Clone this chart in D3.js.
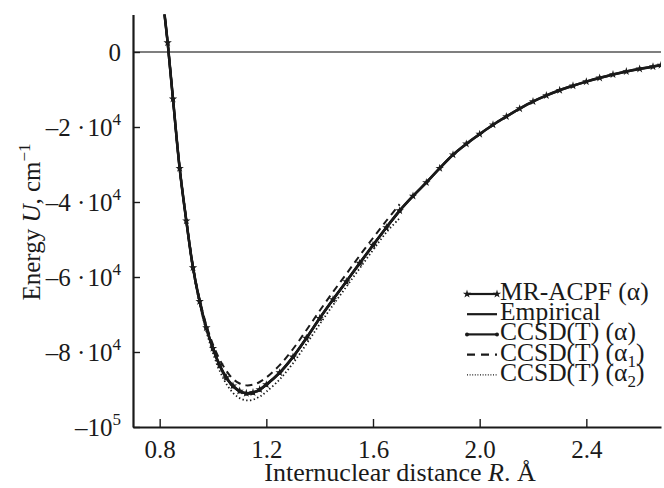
<!DOCTYPE html>
<html lang="en">
<head>
    <meta charset="UTF-8">
    <title>Potential energy curves</title>
    <script src="https://cdn.jsdelivr.net/npm/d3@7"></script>
    <style>
        body {margin: 0; background: white;}
        text {
            font-family: "Liberation Serif", "Times New Roman", serif;
            fill: #1a1a1a;
        }
    </style>
</head>
<body>
<script>
    const width = 664;
    const height = 488;

    // data (R in Angstrom, U in cm^-1)
    const mrAcpfR = [0.815, 0.83, 0.85, 0.875, 0.90, 0.925, 0.95, 0.975, 1.00, 1.025, 1.05, 1.075, 1.10, 1.125,
        1.15, 1.175, 1.20, 1.25, 1.30, 1.35, 1.40, 1.45, 1.50, 1.55, 1.60, 1.65, 1.70, 1.75, 1.80, 1.85,
        1.90, 1.95, 2.00, 2.05, 2.10, 2.15, 2.20, 2.25, 2.30, 2.35, 2.40, 2.45, 2.50, 2.55, 2.60, 2.65, 2.68];
    const mrAcpfU = [12000, 2500, -12500, -31000, -45000, -57500, -66500, -73500, -79000, -83500, -86800, -89000, -90400, -91000,
        -90800, -90000, -88700, -85500, -81300, -76300, -71000, -66000, -61200, -56300, -51500, -46800, -42300, -38400, -34800, -31000,
        -27400, -24500, -21900, -19400, -17200, -15100, -13200, -11600, -10200, -9000, -7900, -6900, -6000, -5200, -4500, -3900, -3500];
    const empiricalU = [12000, 2400, -12600, -31100, -45100, -57600, -66600, -73600, -79100, -83600, -86900, -89100, -90500, -91000,
        -90800, -90000, -88700, -85500, -81300, -76300, -71000, -66000, -61200, -56300, -51500, -46800, -42300, -38400, -34800, -31000,
        -27400, -24500, -21900, -19400, -17200, -15100, -13200, -11600, -10200, -9000, -7900, -6900, -6000, -5200, -4500, -3900, -3500];

    const ccsdR = [0.815, 0.83, 0.85, 0.875, 0.90, 0.925, 0.95, 0.975, 1.00, 1.025, 1.05, 1.075, 1.10, 1.125,
        1.15, 1.175, 1.20, 1.25, 1.30, 1.35, 1.40, 1.45, 1.50, 1.55, 1.60, 1.65, 1.70];
    const ccsdU = [12000, 2500, -12500, -31000, -45000, -57500, -66600, -73700, -79200, -83700, -87000, -89200, -90500, -91100,
        -90900, -90100, -88800, -85600, -81400, -76400, -71100, -66100, -61300, -56400, -51600, -46900, -42400];
    const ccsdA1U = [12000, 2500, -12400, -30800, -44700, -57000, -66000, -72800, -78000, -82000, -85000, -87200, -88400, -88900,
        -88700, -88000, -86800, -83500, -79200, -74200, -69000, -64000, -59200, -54300, -49600, -45000, -40600];
    const ccsdA2U = [12000, 2500, -12700, -31300, -45400, -58000, -67200, -74500, -80300, -85000, -88500, -90900, -92300, -92900,
        -92700, -91900, -90600, -87300, -83000, -77900, -72600, -67500, -62600, -57700, -52800, -48100, -44300];

    const xTicks = [0.8, 1.2, 1.6, 2.0, 2.4];
    const yTicks = [0, -20000, -40000, -60000, -80000, -100000];
    const yTickMant = ["0", "\u20132 \u00b7\u200a10", "\u20134 \u00b7\u200a10", "\u20136 \u00b7\u200a10", "\u20138 \u00b7\u200a10", "\u201310"];
    const yTickExp = ["", "4", "4", "4", "4", "5"];
    const legendLabels = ["MR-ACPF (\u03b1)", "Empirical", "CCSD(T) (\u03b1)", "CCSD(T) (\u03b1", "CCSD(T) (\u03b1"];
    const legendSubs = ["", "", "", "1", "2"];

    const margin = {left: 133, right: 3, top: 14.5, bottom: 61};

    const svg = d3.select("body").append("svg")
            .attr("width", width).attr("height", height);

    const x = d3.scaleLinear().domain([0.7, 2.68]).range([margin.left, width - margin.right]);
    const y = d3.scaleLinear().domain([-100000, 10000]).range([height - margin.bottom, margin.top]);

    svg.append("clipPath").attr("id", "plot")
            .append("rect")
            .attr("x", x(0.7)).attr("y", y(10000))
            .attr("width", x(2.68) - x(0.7)).attr("height", y(-100000) - y(10000));

    // zero line
    svg.append("line")
            .attr("x1", x(0.7)).attr("x2", x(2.68))
            .attr("y1", y(0)).attr("y2", y(0))
            .style("stroke", "#555").style("stroke-width", 1.3);

    const line = (rs) => d3.line().x((d, i) => x(rs[i])).y(d => y(d));
    const plot = svg.append("g").attr("clip-path", "url(#plot)");

    plot.append("path").datum(ccsdA2U)
            .attr("d", line(ccsdR).curve(d3.curveCatmullRom))
            .style("fill", "none").style("stroke", "#1a1a1a")
            .style("stroke-width", 1.8).style("stroke-dasharray", "1.4,2.4");

    plot.append("path").datum(ccsdA1U)
            .attr("d", line(ccsdR).curve(d3.curveCatmullRom))
            .style("fill", "none").style("stroke", "#1a1a1a")
            .style("stroke-width", 2).style("stroke-dasharray", "7,5");

    plot.append("path").datum(empiricalU)
            .attr("d", line(mrAcpfR).curve(d3.curveCatmullRom))
            .style("fill", "none").style("stroke", "#1a1a1a")
            .style("stroke-width", 2.4);

    plot.append("path").datum(ccsdU)
            .attr("d", line(ccsdR).curve(d3.curveCatmullRom))
            .style("fill", "none").style("stroke", "#1a1a1a")
            .style("stroke-width", 2.2);

    plot.append("path").datum(mrAcpfU)
            .attr("d", line(mrAcpfR).curve(d3.curveCatmullRom))
            .style("fill", "none").style("stroke", "#1a1a1a")
            .style("stroke-width", 2.6);

    const star = d3.symbol().type(d3.symbolStar).size(22);

    plot.selectAll("path.star")
            .data(mrAcpfU)
            .enter()
            .append("path")
            .attr("class", "star")
            .attr("transform", (d, i) => `translate(${x(mrAcpfR[i])},${y(d)})`)
            .attr("d", star)
            .style("fill", "#1a1a1a");

    plot.selectAll("circle.dot")
            .data(ccsdU)
            .enter()
            .append("circle")
            .attr("class", "dot")
            .attr("cx", (d, i) => x(ccsdR[i]))
            .attr("cy", d => y(d))
            .attr("r", 2)
            .style("fill", "#1a1a1a");

    // axes
    const xAxis = svg.append("g")
            .attr("transform", `translate(0,${y(-100000)})`)
            .call(d3.axisBottom(x).tickValues(xTicks).tickSizeInner(-8).tickSizeOuter(0).tickFormat(d3.format(".1f")));
    xAxis.select(".domain").style("stroke", "#1a1a1a").style("stroke-width", 2.2);
    xAxis.selectAll(".tick line").style("stroke", "#1a1a1a").style("stroke-width", 1.4);
    xAxis.selectAll(".tick text")
            .attr("y", 31).attr("dy", 0)
            .style("font-size", "25px").style("fill", "#1a1a1a");

    const yAxis = svg.append("g")
            .attr("transform", `translate(${x(0.7)},0)`)
            .call(d3.axisLeft(y).tickValues(yTicks).tickSizeInner(-7).tickSizeOuter(0).tickFormat(""));
    yAxis.select(".domain").style("stroke", "#1a1a1a").style("stroke-width", 2.2);
    yAxis.selectAll(".tick line").style("stroke", "#1a1a1a").style("stroke-width", 1.4);

    const yLabels = svg.selectAll("text.ylab")
            .data(yTicks)
            .enter()
            .append("text")
            .attr("class", "ylab")
            .attr("x", x(0.7) - 12)
            .attr("y", d => y(d) + 9)
            .attr("text-anchor", "end")
            .style("font-size", "25px");
    yLabels.append("tspan").text((d, i) => yTickMant[i]);
    yLabels.append("tspan")
            .attr("dy", -11)
            .style("font-size", "17px")
            .text((d, i) => yTickExp[i]);

    // axis titles
    const xTitle = svg.append("text")
            .attr("x", (x(0.7) + x(2.68)) / 2 + 3)
            .attr("y", 481)
            .attr("text-anchor", "middle")
            .style("font-size", "26px");
    xTitle.append("tspan").text("Internuclear distance ");
    xTitle.append("tspan").style("font-style", "italic").text("R");
    xTitle.append("tspan").text(". \u00c5");

    const yTitle = svg.append("text")
            .attr("transform", "translate(40,222) rotate(-90)")
            .attr("text-anchor", "middle")
            .style("font-size", "25px");
    yTitle.append("tspan").text("Energy ");
    yTitle.append("tspan").style("font-style", "italic").text("U");
    yTitle.append("tspan").text(", cm");
    yTitle.append("tspan").attr("dy", -10).style("font-size", "17px").text("\u22121");

    // legend
    const legend = svg.selectAll("g.legend")
            .data(legendLabels)
            .enter()
            .append("g")
            .attr("class", "legend")
            .attr("transform", (d, i) => `translate(467,${300 + i * 20.2})`);

    legend.append("line")
            .attr("x1", 0).attr("x2", 30)
            .attr("y1", -6).attr("y2", -6)
            .style("stroke", "#1a1a1a")
            .style("stroke-width", (d, i) => i === 4 ? 1.2 : 2.2)
            .style("stroke-dasharray", (d, i) => i === 3 ? "8,6" : (i === 4 ? "1,1.6" : null));

    legend.filter((d, i) => i === 0).selectAll("path.star")
            .data([0, 30]).enter().append("path")
            .attr("transform", d => `translate(${d},-6)`)
            .attr("d", star).style("fill", "#1a1a1a");

    legend.filter((d, i) => i === 2).selectAll("circle")
            .data([0, 30]).enter().append("circle")
            .attr("cx", d => d).attr("cy", -6).attr("r", 2)
            .style("fill", "#1a1a1a");

    const legendText = legend.append("text")
            .attr("x", 33)
            .attr("y", 0)
            .style("font-size", "25.5px");
    legendText.append("tspan").text(d => d);
    legendText.filter((d, i) => legendSubs[i] !== "").append("tspan")
            .attr("dy", 6).style("font-size", "17px").text((d, i) => legendSubs[i + 3]);
    legendText.filter((d, i) => legendSubs[i] !== "").append("tspan")
            .attr("dy", -6).text(")");

</script>
</body>
</html>
